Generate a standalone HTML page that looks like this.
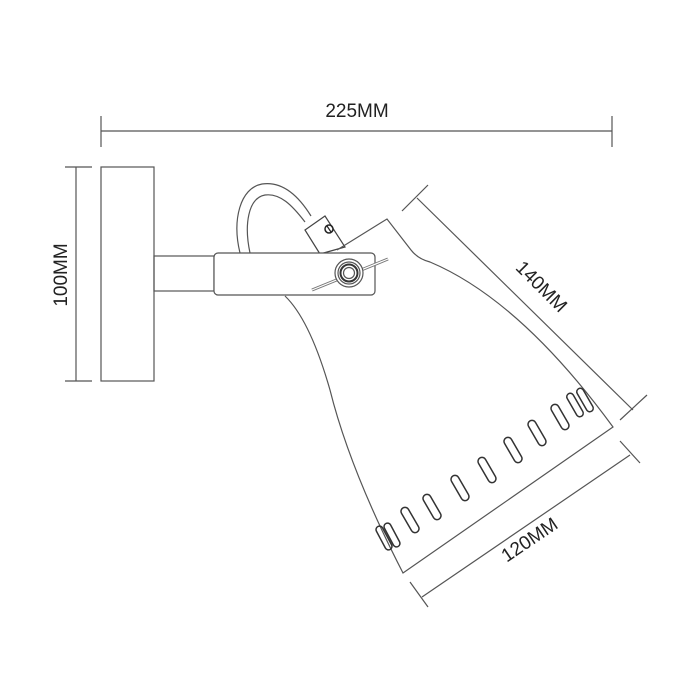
<!DOCTYPE html>
<html><head><style>body{margin:0;background:#fff}svg{display:block}</style></head>
<body>
<svg width="700" height="700" viewBox="0 0 700 700" xmlns="http://www.w3.org/2000/svg">
<rect width="700" height="700" fill="#fff"/>
<g stroke="#555" stroke-width="1.2" fill="none">
<line x1="101" y1="131" x2="612" y2="131"/>
<line x1="101" y1="116" x2="101" y2="147"/>
<line x1="612" y1="116" x2="612" y2="147"/>
<line x1="76" y1="167" x2="76" y2="381"/>
<line x1="65" y1="167" x2="92" y2="167"/>
<line x1="65" y1="381" x2="92" y2="381"/>
<rect x="101" y="167" width="53" height="214"/>
<rect x="154" y="256" width="60" height="35"/>
<path d="M240 253 C232 220 240 188 262 184 C282 181 298 195 311 216"/>
<path d="M250 253 C244 225 248 198 265 195 C280 193 292 205 305 222"/>
<path d="M305 230 L325 216 L345 247 L320 254 Z" stroke="#444"/>
<circle cx="329" cy="229" r="4" stroke="#222" stroke-width="1.5"/>
<line x1="327" y1="226" x2="331" y2="232" stroke="#222"/>
<path d="M337 250 L387 219 L411 250 Q418 259 430 262 Q520 300 613 427 L403 573 Q350 470 330 390 Q310 320 285 296"/>
<rect x="214" y="253" width="161" height="42" rx="4" fill="#fff"/>
<line x1="312" y1="290" x2="388" y2="259" stroke-width="3" stroke="#777"/>
<line x1="312" y1="290" x2="388" y2="259" stroke-width="1.2" stroke="#fff"/>
<circle cx="349" cy="273" r="14" fill="#fff"/>
<circle cx="349" cy="273" r="11"/>
<circle cx="349" cy="273" r="8.5" stroke-width="2" stroke="#333"/>
<circle cx="349" cy="273" r="5.5"/>
<line x1="417" y1="198" x2="633" y2="410"/>
<line x1="402" y1="211" x2="428" y2="185"/>
<line x1="620" y1="420" x2="647" y2="395"/>
<line x1="422" y1="597" x2="630" y2="455"/>
<line x1="410" y1="582" x2="428" y2="607"/>
<line x1="620" y1="441" x2="640" y2="463"/>
</g>
<g stroke="#333" stroke-width="1.5" fill="none">
<rect x="-3.5" y="-13" width="7" height="26" rx="3.5" transform="translate(384,538) rotate(-28)"/>
<rect x="-3.5" y="-13" width="7" height="26" rx="3.5" transform="translate(392,535) rotate(-28)"/>
<rect x="-4" y="-14" width="8" height="28" rx="4" transform="translate(410,520) rotate(-30)"/>
<rect x="-4" y="-14" width="8" height="28" rx="4" transform="translate(432,507) rotate(-30)"/>
<rect x="-4" y="-14" width="8" height="28" rx="4" transform="translate(460,488) rotate(-30)"/>
<rect x="-4" y="-14" width="8" height="28" rx="4" transform="translate(487,470) rotate(-30)"/>
<rect x="-4" y="-14" width="8" height="28" rx="4" transform="translate(513,450) rotate(-30)"/>
<rect x="-4" y="-14" width="8" height="28" rx="4" transform="translate(537,433) rotate(-30)"/>
<rect x="-4" y="-14" width="8" height="28" rx="4" transform="translate(560,417) rotate(-30)"/>
<rect x="-3.5" y="-13" width="7" height="26" rx="3.5" transform="translate(575,405) rotate(-30)"/>
<rect x="-3.5" y="-13" width="7" height="26" rx="3.5" transform="translate(585,400) rotate(-30)"/>
</g>
<g font-family="Liberation Sans, sans-serif" font-size="19" fill="#222" text-anchor="middle">
<text x="357" y="117">225MM</text>
<text transform="translate(67,275) rotate(-90)">100MM</text>
<text transform="translate(537,291) rotate(45)">140MM</text>
<text transform="translate(533,545) rotate(-34)">120MM</text>
</g>
</svg>
</body></html>
